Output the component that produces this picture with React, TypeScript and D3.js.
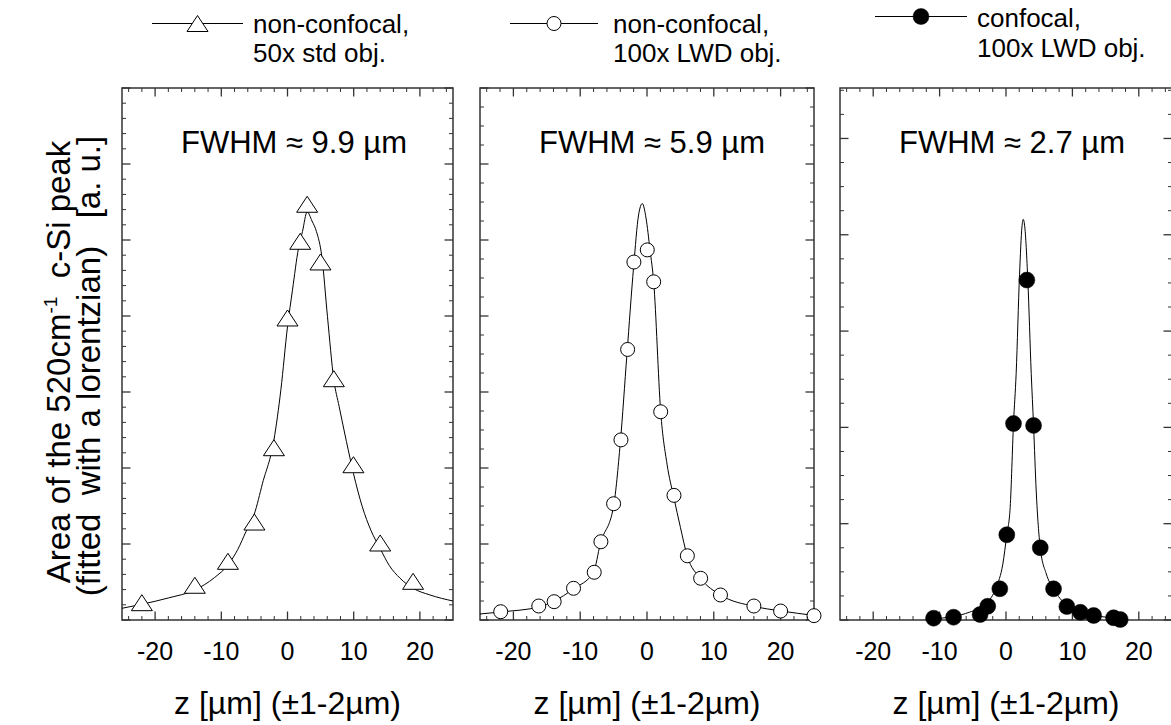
import React from 'react';
import * as d3 from 'd3';

// ---------- data ----------
const xMajorTicks = [-20, -10, 0, 10, 20];
const xTickLabels = ['-20', '-10', '0', '10', '20'];

// Panel 1: non-confocal, 50x std obj. (triangles)
const p1Z = [-22.0, -14.0, -9.0, -5.0, -2.05, 0.0, 1.92, 2.97, 4.98, 7.0, 9.96, 14.0, 18.97];
const p1V = [0.228, 0.457, 0.772, 1.289, 2.267, 3.974, 4.983, 5.47, 4.711, 3.175, 2.043, 1.013, 0.509];
const p1FitZ = [-25.0, -22.0, -18.0, -14.0, -11.0, -9.0, -7.5, -6.28, -5.03, -3.77, -2.05, -1.0, 0.0, 0.75, 1.66, 2.26, 2.97, 3.7, 4.38, 5.19, 6.04, 7.0, 7.8, 8.9, 9.96, 11.3, 12.6, 14.0, 15.35, 17.0, 18.97, 21.5, 25.0];
const p1FitV = [0.154, 0.207, 0.29, 0.395, 0.56, 0.724, 0.93, 1.162, 1.39, 1.8, 2.37, 3.03, 3.86, 4.34, 4.89, 5.11, 5.37, 5.25, 5.11, 4.78, 3.99, 3.16, 2.81, 2.35, 1.93, 1.49, 1.18, 0.94, 0.72, 0.55, 0.417, 0.33, 0.25];

// Panel 2: non-confocal, 100x LWD obj. (open circles)
const p2Z = [-21.9, -16.2, -13.9, -11.0, -7.9, -6.9, -5.0, -3.9, -2.9, -1.96, 0.04, 1.0, 2.05, 4.04, 6.04, 8.03, 11.0, 16.0, 20.0, 25.0];
const p2V = [0.109, 0.184, 0.241, 0.417, 0.628, 1.03, 1.53, 2.37, 3.56, 4.71, 4.87, 4.45, 2.74, 1.64, 0.845, 0.549, 0.329, 0.184, 0.118, 0.057];
const p2FitZ = [-25.0, -22.0, -16.0, -14.0, -11.0, -8.0, -7.0, -5.0, -4.0, -3.0, -2.0, -1.26, -0.7, -0.15, 0.45, 1.0, 2.05, 3.0, 4.0, 5.0, 6.0, 8.0, 11.0, 16.0, 20.0, 25.0];
const p2FitV = [0.079, 0.105, 0.175, 0.245, 0.41, 0.63, 1.0, 1.5, 2.33, 3.5, 4.65, 5.33, 5.48, 5.29, 4.87, 4.45, 2.74, 2.05, 1.62, 1.22, 0.85, 0.55, 0.33, 0.18, 0.12, 0.06];

// Panel 3: confocal, 100x LWD obj. (filled circles)
const p3Z = [-10.9, -7.9, -3.9, -2.75, -0.93, 0.12, 1.13, 3.14, 4.15, 5.16, 7.16, 9.17, 11.2, 13.2, 16.2, 17.2];
const p3V = [0.019, 0.029, 0.057, 0.143, 0.324, 0.885, 2.04, 3.53, 2.02, 0.75, 0.324, 0.14, 0.08, 0.047, 0.023, 0.005];
const p3FitZ = [-10.9, -8.0, -5.5, -3.0, -1.48, -0.48, 0.12, 0.63, 1.13, 1.53, 2.04, 2.4, 2.59, 2.8, 3.29, 3.8, 4.15, 4.55, 5.16, 6.06, 7.16, 9.17, 11.2, 13.2, 17.1];
const p3FitV = [0.012, 0.036, 0.081, 0.168, 0.34, 0.58, 0.885, 1.17, 2.04, 2.56, 3.59, 4.08, 4.16, 4.1, 3.52, 2.56, 2.02, 1.34, 0.75, 0.48, 0.324, 0.15, 0.08, 0.047, 0.02];

const fwhmLabels = ['FWHM \u2248 9.9 \u00b5m', 'FWHM \u2248 5.9 \u00b5m', 'FWHM \u2248 2.7 \u00b5m'];
const legendLines = [
  ['non-confocal,', '50x std obj.'],
  ['non-confocal,', '100x LWD obj.'],
  ['confocal,', '100x LWD obj.'],
];
const xTitle = 'z [\u00b5m] (\u00b11-2\u00b5m)';

// ---------- layout ----------
const W = 1171;
const H = 725;
const TOP = 88;
const BOTTOM = 620;
const FONT = '"Liberation Sans", Arial, Helvetica, sans-serif';

type Sym = 'tri' | 'open' | 'filled';

const panels = [
  { x0: 122, x1: 453, yMax: 7, minorStep: 0.2, z: p1Z, v: p1V, fz: p1FitZ, fv: p1FitV, sym: 'tri' as Sym, fwhmX: 294 },
  { x0: 480, x1: 814, yMax: 7, minorStep: 0.25, z: p2Z, v: p2V, fz: p2FitZ, fv: p2FitV, sym: 'open' as Sym, fwhmX: 652 },
  { x0: 840, x1: 1172, yMax: 5.524, minorStep: 0.25, z: p3Z, v: p3V, fz: p3FitZ, fv: p3FitV, sym: 'filled' as Sym, fwhmX: 1012 },
];

const legendPos = [
  { l0: 152, l1: 243, ly: 23.5, tx: 253, b1: 33, b2: 62 },
  { l0: 510, l1: 598, ly: 23.5, tx: 613, b1: 33, b2: 62 },
  { l0: 875, l1: 967, ly: 16.5, tx: 977, b1: 27, b2: 56.5 },
];

function Marker({ sym, cx, cy }: { sym: Sym; cx: number; cy: number }) {
  if (sym === 'tri') {
    const w = 10.5, h = 8;
    return (
      <path
        d={`M${cx},${cy - h}L${cx + w},${cy + h}L${cx - w},${cy + h}Z`}
        fill="#fff"
        stroke="#000"
        strokeWidth={1}
      />
    );
  }
  if (sym === 'open') {
    return <circle cx={cx} cy={cy} r={7} fill="#fff" stroke="#000" strokeWidth={1} />;
  }
  return <circle cx={cx} cy={cy} r={8} fill="#000" stroke="#000" strokeWidth={0.5} />;
}

function Panel({ p, i }: { p: (typeof panels)[number]; i: number }) {
  const x = d3.scaleLinear().domain([-25, 25]).range([p.x0, p.x1]);
  const y = d3.scaleLinear().domain([0, p.yMax]).range([BOTTOM, TOP]);
  const line = d3
    .line<number>()
    .x((_, k) => x(p.fz[k]))
    .y((d) => y(d))
    .curve(d3.curveMonotoneX);

  const xMinor = d3.range(-24, 25, 2).filter((t) => t % 10 !== 0);
  const yMajor = d3.range(0, p.yMax + 1e-6, 1);
  const yMinor = d3
    .range(0, p.yMax + 1e-6, p.minorStep)
    .filter((t) => Math.abs(t - Math.round(t)) > 1e-6);

  const axisColor = '#333';
  const MJ = 8.5;
  const MN = 4;

  return (
    <g>
      <rect
        x={p.x0}
        y={TOP}
        width={p.x1 - p.x0}
        height={BOTTOM - TOP}
        fill="none"
        stroke={axisColor}
        strokeWidth={1.5}
      />
      {xMajorTicks.map((t) => (
        <g key={'xm' + t}>
          <line x1={x(t)} x2={x(t)} y1={BOTTOM} y2={BOTTOM - MJ} stroke={axisColor} strokeWidth={1.3} />
          <line x1={x(t)} x2={x(t)} y1={TOP} y2={TOP + MJ} stroke={axisColor} strokeWidth={1.3} />
        </g>
      ))}
      {xMinor.map((t) => (
        <g key={'xn' + t}>
          <line x1={x(t)} x2={x(t)} y1={BOTTOM} y2={BOTTOM - MN} stroke={axisColor} strokeWidth={1} />
          <line x1={x(t)} x2={x(t)} y1={TOP} y2={TOP + MN} stroke={axisColor} strokeWidth={1} />
        </g>
      ))}
      {yMajor.map((t) => (
        <g key={'ym' + t}>
          <line x1={p.x0} x2={p.x0 + MJ} y1={y(t)} y2={y(t)} stroke={axisColor} strokeWidth={1.3} />
          <line x1={p.x1} x2={p.x1 - MJ} y1={y(t)} y2={y(t)} stroke={axisColor} strokeWidth={1.3} />
        </g>
      ))}
      {yMinor.map((t) => (
        <g key={'yn' + t}>
          <line x1={p.x0} x2={p.x0 + MN} y1={y(t)} y2={y(t)} stroke={axisColor} strokeWidth={1} />
          <line x1={p.x1} x2={p.x1 - MN} y1={y(t)} y2={y(t)} stroke={axisColor} strokeWidth={1} />
        </g>
      ))}
      {xMajorTicks.map((t, k) => (
        <text key={'xl' + t} x={x(t)} y={660} textAnchor="middle" fontSize={25} fontFamily={FONT} fill="#000">
          {xTickLabels[k]}
        </text>
      ))}
      <text x={x(0)} y={714} textAnchor="middle" fontSize={32} fontFamily={FONT} fill="#000">
        {xTitle}
      </text>
      <text x={p.fwhmX} y={153} textAnchor="middle" fontSize={31} fontFamily={FONT} fill="#000">
        {fwhmLabels[i]}
      </text>
      <path d={line(p.fv) || ''} fill="none" stroke="#000" strokeWidth={1} />
      {p.z.map((z, k) => (
        <Marker key={'m' + k} sym={p.sym} cx={x(z)} cy={y(p.v[k])} />
      ))}
    </g>
  );
}

function Legend({ i }: { i: number }) {
  const L = legendPos[i];
  const sym = panels[i].sym;
  return (
    <g>
      <line x1={L.l0} x2={L.l1} y1={L.ly} y2={L.ly} stroke="#000" strokeWidth={1} />
      <Marker sym={sym} cx={(L.l0 + L.l1) / 2} cy={L.ly} />
      <text x={L.tx} y={L.b1} fontSize={26} fontFamily={FONT} fill="#000">
        {legendLines[i][0]}
      </text>
      <text x={L.tx} y={L.b2} fontSize={26} fontFamily={FONT} fill="#000">
        {legendLines[i][1]}
      </text>
    </g>
  );
}

export default function App() {
  return (
    <svg
      width={W}
      height={H}
      viewBox={`0 0 ${W} ${H}`}
      style={{ position: 'absolute', left: 0, top: 0, background: '#fff' }}
    >
      <rect x={0} y={0} width={W} height={H} fill="#fff" />
      {panels.map((p, i) => (
        <Panel key={i} p={p} i={i} />
      ))}
      {panels.map((_, i) => (
        <Legend key={'lg' + i} i={i} />
      ))}
      <text
        transform="translate(70,362) rotate(-90)"
        textAnchor="middle"
        fontSize={33}
        fontFamily={FONT}
        fill="#000"
        style={{ whiteSpace: 'pre' }}
      >
        Area of the 520cm
        <tspan fontSize={19} dy={-13}>-1</tspan>
        <tspan dy={13}>{'  c-Si peak'}</tspan>
      </text>
      <text
        transform="translate(100,366) rotate(-90)"
        textAnchor="middle"
        fontSize={33}
        fontFamily={FONT}
        fill="#000"
        style={{ whiteSpace: 'pre' }}
      >
        {'(fitted  with a lorentzian)   [a. u.]'}
      </text>
    </svg>
  );
}
